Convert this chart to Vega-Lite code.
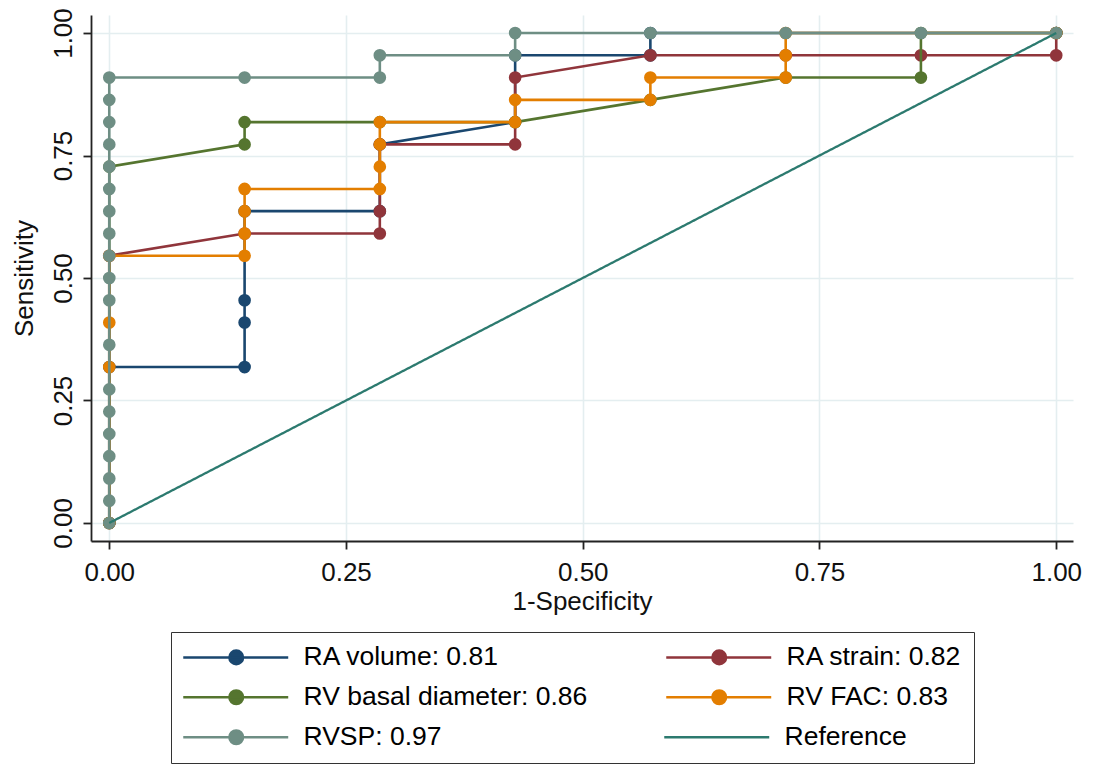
{
  "$schema": "https://vega.github.io/schema/vega-lite/v6.json",
  "autosize": "none",
  "width": 982,
  "height": 526,
  "padding": {"left": 91, "top": 15, "right": 20, "bottom": 223},
  "background": "white",
  "datasets": {
    "ravol": [
      {"s": "RA volume: 0.81", "o": 1, "fpr": 0, "sens": 0},
      {"s": "RA volume: 0.81", "o": 2, "fpr": 0, "sens": 0.3182},
      {"s": "RA volume: 0.81", "o": 3, "fpr": 0.1429, "sens": 0.3182},
      {"s": "RA volume: 0.81", "o": 4, "fpr": 0.1429, "sens": 0.4091},
      {"s": "RA volume: 0.81", "o": 5, "fpr": 0.1429, "sens": 0.4545},
      {"s": "RA volume: 0.81", "o": 6, "fpr": 0.1429, "sens": 0.6364},
      {"s": "RA volume: 0.81", "o": 7, "fpr": 0.2857, "sens": 0.6364},
      {"s": "RA volume: 0.81", "o": 8, "fpr": 0.2857, "sens": 0.7727},
      {"s": "RA volume: 0.81", "o": 9, "fpr": 0.4286, "sens": 0.8182},
      {"s": "RA volume: 0.81", "o": 10, "fpr": 0.4286, "sens": 0.9545},
      {"s": "RA volume: 0.81", "o": 11, "fpr": 0.5714, "sens": 0.9545},
      {"s": "RA volume: 0.81", "o": 12, "fpr": 0.5714, "sens": 1},
      {"s": "RA volume: 0.81", "o": 13, "fpr": 1, "sens": 1}
    ],
    "rastr": [
      {"s": "RA strain: 0.82", "o": 1, "fpr": 0, "sens": 0},
      {"s": "RA strain: 0.82", "o": 2, "fpr": 0, "sens": 0.5455},
      {"s": "RA strain: 0.82", "o": 3, "fpr": 0.1429, "sens": 0.5909},
      {"s": "RA strain: 0.82", "o": 4, "fpr": 0.2857, "sens": 0.5909},
      {"s": "RA strain: 0.82", "o": 5, "fpr": 0.2857, "sens": 0.6364},
      {"s": "RA strain: 0.82", "o": 6, "fpr": 0.2857, "sens": 0.7727},
      {"s": "RA strain: 0.82", "o": 7, "fpr": 0.4286, "sens": 0.7727},
      {"s": "RA strain: 0.82", "o": 8, "fpr": 0.4286, "sens": 0.9091},
      {"s": "RA strain: 0.82", "o": 9, "fpr": 0.5714, "sens": 0.9545},
      {"s": "RA strain: 0.82", "o": 10, "fpr": 0.7143, "sens": 0.9545},
      {"s": "RA strain: 0.82", "o": 11, "fpr": 0.8571, "sens": 0.9545},
      {"s": "RA strain: 0.82", "o": 12, "fpr": 1, "sens": 0.9545},
      {"s": "RA strain: 0.82", "o": 13, "fpr": 1, "sens": 1}
    ],
    "rvbd": [
      {"s": "RV basal diameter: 0.86", "o": 1, "fpr": 0, "sens": 0},
      {"s": "RV basal diameter: 0.86", "o": 2, "fpr": 0, "sens": 0.7273},
      {"s": "RV basal diameter: 0.86", "o": 3, "fpr": 0.1429, "sens": 0.7727},
      {"s": "RV basal diameter: 0.86", "o": 4, "fpr": 0.1429, "sens": 0.8182},
      {"s": "RV basal diameter: 0.86", "o": 5, "fpr": 0.2857, "sens": 0.8182},
      {"s": "RV basal diameter: 0.86", "o": 6, "fpr": 0.4286, "sens": 0.8182},
      {"s": "RV basal diameter: 0.86", "o": 7, "fpr": 0.5714, "sens": 0.8636},
      {"s": "RV basal diameter: 0.86", "o": 8, "fpr": 0.7143, "sens": 0.9091},
      {"s": "RV basal diameter: 0.86", "o": 9, "fpr": 0.8571, "sens": 0.9091},
      {"s": "RV basal diameter: 0.86", "o": 10, "fpr": 0.8571, "sens": 1},
      {"s": "RV basal diameter: 0.86", "o": 11, "fpr": 1, "sens": 1}
    ],
    "rvfac": [
      {"s": "RV FAC: 0.83", "o": 1, "fpr": 0, "sens": 0},
      {"s": "RV FAC: 0.83", "o": 2, "fpr": 0, "sens": 0.3182},
      {"s": "RV FAC: 0.83", "o": 3, "fpr": 0, "sens": 0.4091},
      {"s": "RV FAC: 0.83", "o": 4, "fpr": 0, "sens": 0.5455},
      {"s": "RV FAC: 0.83", "o": 5, "fpr": 0.1429, "sens": 0.5455},
      {"s": "RV FAC: 0.83", "o": 6, "fpr": 0.1429, "sens": 0.5909},
      {"s": "RV FAC: 0.83", "o": 7, "fpr": 0.1429, "sens": 0.6364},
      {"s": "RV FAC: 0.83", "o": 8, "fpr": 0.1429, "sens": 0.6818},
      {"s": "RV FAC: 0.83", "o": 9, "fpr": 0.2857, "sens": 0.6818},
      {"s": "RV FAC: 0.83", "o": 10, "fpr": 0.2857, "sens": 0.7273},
      {"s": "RV FAC: 0.83", "o": 11, "fpr": 0.2857, "sens": 0.7727},
      {"s": "RV FAC: 0.83", "o": 12, "fpr": 0.2857, "sens": 0.8182},
      {"s": "RV FAC: 0.83", "o": 13, "fpr": 0.4286, "sens": 0.8182},
      {"s": "RV FAC: 0.83", "o": 14, "fpr": 0.4286, "sens": 0.8636},
      {"s": "RV FAC: 0.83", "o": 15, "fpr": 0.5714, "sens": 0.8636},
      {"s": "RV FAC: 0.83", "o": 16, "fpr": 0.5714, "sens": 0.9091},
      {"s": "RV FAC: 0.83", "o": 17, "fpr": 0.7143, "sens": 0.9091},
      {"s": "RV FAC: 0.83", "o": 18, "fpr": 0.7143, "sens": 0.9545},
      {"s": "RV FAC: 0.83", "o": 19, "fpr": 0.7143, "sens": 1},
      {"s": "RV FAC: 0.83", "o": 20, "fpr": 1, "sens": 1}
    ],
    "rvsp": [
      {"s": "RVSP: 0.97", "o": 1, "fpr": 0, "sens": 0},
      {"s": "RVSP: 0.97", "o": 2, "fpr": 0, "sens": 0.0455},
      {"s": "RVSP: 0.97", "o": 3, "fpr": 0, "sens": 0.0909},
      {"s": "RVSP: 0.97", "o": 4, "fpr": 0, "sens": 0.1364},
      {"s": "RVSP: 0.97", "o": 5, "fpr": 0, "sens": 0.1818},
      {"s": "RVSP: 0.97", "o": 6, "fpr": 0, "sens": 0.2273},
      {"s": "RVSP: 0.97", "o": 7, "fpr": 0, "sens": 0.2727},
      {"s": "RVSP: 0.97", "o": 8, "fpr": 0, "sens": 0.3636},
      {"s": "RVSP: 0.97", "o": 9, "fpr": 0, "sens": 0.4545},
      {"s": "RVSP: 0.97", "o": 10, "fpr": 0, "sens": 0.5},
      {"s": "RVSP: 0.97", "o": 11, "fpr": 0, "sens": 0.5455},
      {"s": "RVSP: 0.97", "o": 12, "fpr": 0, "sens": 0.5909},
      {"s": "RVSP: 0.97", "o": 13, "fpr": 0, "sens": 0.6364},
      {"s": "RVSP: 0.97", "o": 14, "fpr": 0, "sens": 0.6818},
      {"s": "RVSP: 0.97", "o": 15, "fpr": 0, "sens": 0.7273},
      {"s": "RVSP: 0.97", "o": 16, "fpr": 0, "sens": 0.7727},
      {"s": "RVSP: 0.97", "o": 17, "fpr": 0, "sens": 0.8182},
      {"s": "RVSP: 0.97", "o": 18, "fpr": 0, "sens": 0.8636},
      {"s": "RVSP: 0.97", "o": 19, "fpr": 0, "sens": 0.9091},
      {"s": "RVSP: 0.97", "o": 20, "fpr": 0.1429, "sens": 0.9091},
      {"s": "RVSP: 0.97", "o": 21, "fpr": 0.2857, "sens": 0.9091},
      {"s": "RVSP: 0.97", "o": 22, "fpr": 0.2857, "sens": 0.9545},
      {"s": "RVSP: 0.97", "o": 23, "fpr": 0.4286, "sens": 0.9545},
      {"s": "RVSP: 0.97", "o": 24, "fpr": 0.4286, "sens": 1},
      {"s": "RVSP: 0.97", "o": 25, "fpr": 0.5714, "sens": 1},
      {"s": "RVSP: 0.97", "o": 26, "fpr": 0.7143, "sens": 1},
      {"s": "RVSP: 0.97", "o": 27, "fpr": 0.8571, "sens": 1},
      {"s": "RVSP: 0.97", "o": 28, "fpr": 1, "sens": 1}
    ],
    "ref": [
      {"s": "Reference", "o": 1, "fpr": 0, "sens": 0},
      {"s": "Reference", "o": 2, "fpr": 1, "sens": 1}
    ]
  },
  "encoding": {
    "x": {
      "field": "fpr", "type": "quantitative",
      "scale": {"domain": [-0.0193, 1.0177], "nice": false, "zero": false},
      "axis": {
        "title": "1-Specificity",
        "values": [0, 0.25, 0.5, 0.75, 1],
        "format": ".2f",
        "labelFlush": false,
        "labelOverlap": false,
        "labelBaseline": "alphabetic",
        "labelPadding": 31,
        "titleBaseline": "alphabetic",
        "titleX": 491,
        "titleY": 68
      }
    },
    "y": {
      "field": "sens", "type": "quantitative",
      "scale": {"domain": [-0.0368, 1.0368], "nice": false, "zero": false},
      "axis": {
        "title": "Sensitivity",
        "values": [0, 0.25, 0.5, 0.75, 1],
        "format": ".2f",
        "labelFlush": false,
        "labelOverlap": false,
        "labelAngle": -90,
        "labelAlign": "center",
        "labelBaseline": "alphabetic",
        "labelPadding": 12,
        "titleAngle": -90,
        "titleAlign": "center",
        "titleBaseline": "alphabetic",
        "titleX": -59,
        "titleY": 263
      }
    },
    "order": {"field": "o", "type": "quantitative"}
  },
  "layer": [
    {"data": {"name": "ravol"}, "mark": {"type": "line", "strokeWidth": 2.6},
     "encoding": {"stroke": {"field": "s", "type": "nominal", "scale": {"domain": ["RA volume: 0.81", "RA strain: 0.82", "RV basal diameter: 0.86", "RV FAC: 0.83", "RVSP: 0.97"], "range": ["#1a476f", "#90353b", "#55752f", "#e37e00", "#6e8e84"]},
       "legend": {"title": null, "orient": "none", "legendX": 80, "legendY": 617, "direction": "horizontal", "columns": 2, "gridAlign": "each", "columnPadding": 73, "rowPadding": 13, "padding": 12, "strokeColor": "#333333", "labelFont": "Liberation Sans", "labelFontSize": 26.5, "labelColor": "#000000", "labelLimit": 600, "labelOffset": 94, "symbolSize": 169, "symbolStrokeWidth": 2.5, "symbolOpacity": 1, "symbolType": "M-2,0H14.15M5.1,0A1.05,1.05 0 1,1 7.2,0A1.05,1.05 0 1,1 5.1,0Z"}}}},
    {"data": {"name": "ravol"}, "mark": {"type": "point", "filled": true, "shape": "circle", "size": 160, "opacity": 1},
     "encoding": {"fill": {"field": "s", "type": "nominal", "scale": {"domain": ["RA volume: 0.81", "RA strain: 0.82", "RV basal diameter: 0.86", "RV FAC: 0.83", "RVSP: 0.97"], "range": ["#1a476f", "#90353b", "#55752f", "#e37e00", "#6e8e84"]},
       "legend": {"title": null, "orient": "none", "legendX": 80, "legendY": 617, "direction": "horizontal", "columns": 2, "gridAlign": "each", "columnPadding": 73, "rowPadding": 13, "padding": 12, "strokeColor": "#333333", "labelFont": "Liberation Sans", "labelFontSize": 26.5, "labelColor": "#000000", "labelLimit": 600, "labelOffset": 94, "symbolSize": 169, "symbolStrokeWidth": 2.5, "symbolOpacity": 1, "symbolType": "M-2,0H14.15M5.1,0A1.05,1.05 0 1,1 7.2,0A1.05,1.05 0 1,1 5.1,0Z"}}}},
    {"data": {"name": "rastr"}, "mark": {"type": "line", "strokeWidth": 2.6}, "encoding": {"stroke": {"field": "s", "type": "nominal"}}},
    {"data": {"name": "rastr"}, "mark": {"type": "point", "filled": true, "shape": "circle", "size": 160, "opacity": 1}, "encoding": {"fill": {"field": "s", "type": "nominal"}}},
    {"data": {"name": "rvbd"}, "mark": {"type": "line", "strokeWidth": 2.6}, "encoding": {"stroke": {"field": "s", "type": "nominal"}}},
    {"data": {"name": "rvbd"}, "mark": {"type": "point", "filled": true, "shape": "circle", "size": 160, "opacity": 1}, "encoding": {"fill": {"field": "s", "type": "nominal"}}},
    {"data": {"name": "rvfac"}, "mark": {"type": "line", "strokeWidth": 2.6}, "encoding": {"stroke": {"field": "s", "type": "nominal"}}},
    {"data": {"name": "rvfac"}, "mark": {"type": "point", "filled": true, "shape": "circle", "size": 160, "opacity": 1}, "encoding": {"fill": {"field": "s", "type": "nominal"}}},
    {"data": {"name": "rvsp"}, "mark": {"type": "line", "strokeWidth": 2.6}, "encoding": {"stroke": {"field": "s", "type": "nominal"}}},
    {"data": {"name": "rvsp"}, "mark": {"type": "point", "filled": true, "shape": "circle", "size": 160, "opacity": 1}, "encoding": {"fill": {"field": "s", "type": "nominal"}}},
    {"data": {"name": "ref"}, "mark": {"type": "line", "strokeWidth": 2.3, "color": "#2c7a6f"},
     "encoding": {"strokeDash": {"field": "s", "type": "nominal", "scale": {"domain": ["Reference"], "range": [[1, 0]]},
       "legend": {"title": null, "orient": "none", "legendX": 573, "legendY": 709, "padding": 0, "zindex": 2, "labelFont": "Liberation Sans", "labelFontSize": 26.5, "labelColor": "#000000", "labelLimit": 600, "labelOffset": 94, "symbolSize": 169, "symbolStrokeWidth": 2.5, "symbolOpacity": 1, "symbolStrokeColor": "#2c7a6f", "symbolType": "M-2,0H14.15"}}}}
  ],
  "config": {
    "view": {"stroke": null},
    "font": "Liberation Sans",
    "axis": {
      "domainColor": "#222222",
      "domainWidth": 1.8,
      "tickColor": "#222222",
      "tickWidth": 1.8,
      "tickSize": 8,
      "gridColor": "#e4eef0",
      "gridWidth": 1.6,
      "labelFont": "Liberation Sans",
      "labelFontSize": 26,
      "labelColor": "#111111",
      "titleFont": "Liberation Sans",
      "titleFontSize": 26,
      "titleFontWeight": "normal",
      "titleColor": "#111111"
    }
  }
}
